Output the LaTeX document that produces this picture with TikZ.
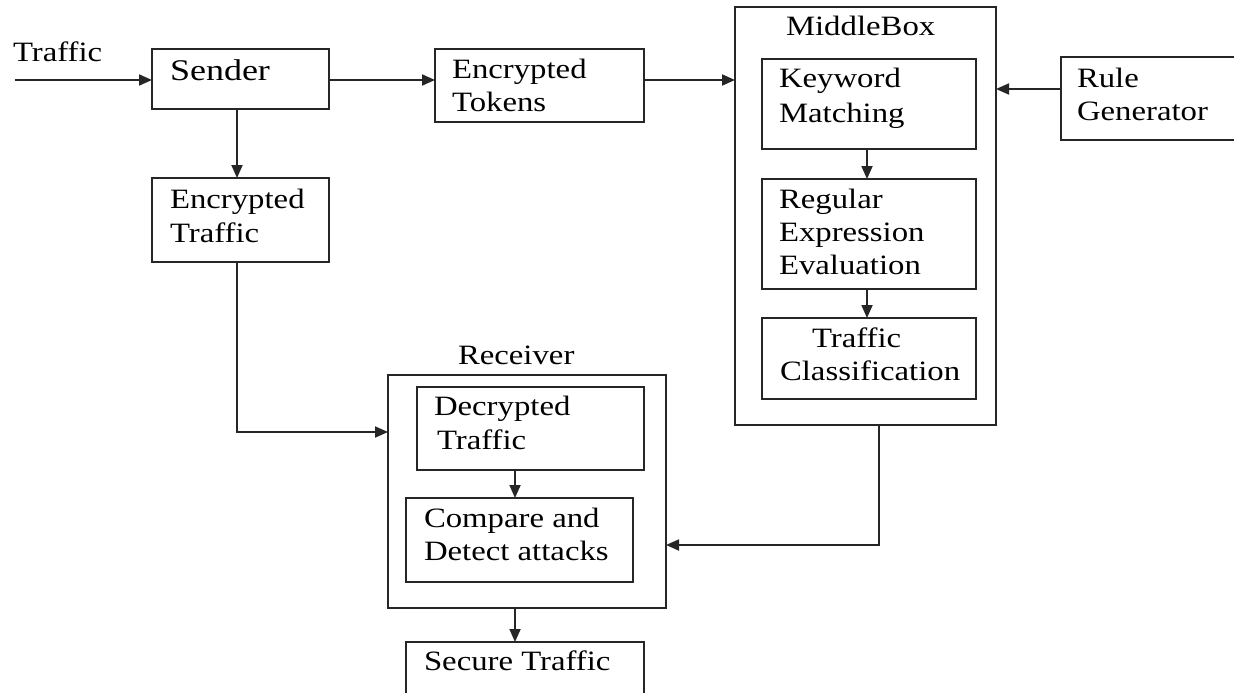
\documentclass[tikz,border=0pt]{standalone}
\usepackage{fontspec}
\setmainfont{Liberation Serif}
\usetikzlibrary{arrows.meta}
\newcommand\lbl[1]{\scalebox{1.17}[1]{#1}}
\tikzset{
  box/.style={draw=black!85, line width=1.8pt, minimum width=#1, anchor=north west, inner sep=0pt, outer sep=0pt},
  txt/.style={anchor=base west, inner sep=0pt, outer sep=0pt, font=\fontsize{28}{34}\selectfont, text=black},
  arr/.style={draw=black!85, line width=1.8pt, -{Triangle[length=13pt,width=11pt]}},
}
\begin{document}
\begin{tikzpicture}[x=1pt,y=-1pt]
\useasboundingbox (0,0) rectangle (1234,693);
\clip (0,0) rectangle (1234,693);
\fill[white] (0,0) rectangle (1234,693);
% boxes
\node[box=177, minimum height=60] (sender) at (152,49) {};
\node[box=177, minimum height=84] (enctraffic) at (152,178) {};
\node[box=209, minimum height=73] (tokens) at (435,49) {};
\node[box=261, minimum height=418] (middlebox) at (735,7) {};
\node[box=214, minimum height=90] (keyword) at (762,59) {};
\node[box=214, minimum height=110] (regex) at (762,179) {};
\node[box=214, minimum height=81] (classif) at (762,318) {};
\node[box=190, minimum height=83] (rulegen) at (1061,57) {};
\node[box=278, minimum height=233] (receiver) at (388,375) {};
\node[box=227, minimum height=83] (decrypted) at (417,387) {};
\node[box=227, minimum height=84] (compare) at (406,498) {};
\node[box=238, minimum height=80] (secure) at (406,642) {};
% texts
\node[txt] (tIn) at (13,62) {\lbl{Traffic}};
\node[txt, font=\fontsize{30}{34}\selectfont] (tSender) at (170,81) {\scalebox{1.2}[1]{Sender}};
\node[txt] (tEnc1) at (170,208) {\lbl{Encrypted}};
\node[txt] (tEnc2) at (170,242) {\lbl{Traffic}};
\node[txt] (tTok1) at (452,78) {\lbl{Encrypted}};
\node[txt] (tTok2) at (452,111) {\lbl{Tokens}};
\node[txt] (tMB) at (786,36) {\lbl{MiddleBox}};
\node[txt] (tKw1) at (779,87) {\lbl{Keyword}};
\node[txt] (tKw2) at (779,122) {\lbl{Matching}};
\node[txt] (tRe1) at (779,208) {\lbl{Regular}};
\node[txt] (tRe2) at (779,241) {\lbl{Expression}};
\node[txt] (tRe3) at (779,274) {\lbl{Evaluation}};
\node[txt] (tCl1) at (812,347) {\lbl{Traffic}};
\node[txt] (tCl2) at (780,380) {\lbl{Classification}};
\node[txt] (tRg1) at (1077,87) {\lbl{Rule}};
\node[txt] (tRg2) at (1077,120) {\lbl{Generator}};
\node[txt] (tRecv) at (458,364) {\lbl{Receiver}};
\node[txt] (tDe1) at (434,415) {\lbl{Decrypted}};
\node[txt] (tDe2) at (437,449) {\lbl{Traffic}};
\node[txt] (tCo1) at (424,527) {\lbl{Compare and}};
\node[txt] (tCo2) at (424,560) {\lbl{Detect attacks}};
\node[txt] (tSec) at (424,670) {\lbl{Secure Traffic}};
% connectors
\coordinate (in) at (15,80);
\draw[arr] (in) -- (sender.west |- in);
\draw[arr] (sender.east |- in) -- (tokens.west |- in);
\draw[arr] (tokens.east |- in) -- (middlebox.west |- in);
\draw[arr] (rulegen.west |- 0,89) -- (middlebox.east |- 0,89);
\draw[arr] (sender.south -| 237,0) -- (enctraffic.north -| 237,0);
\draw[arr] (enctraffic.south -| 237,0) |- (receiver.west |- 0,432);
\draw[arr] (keyword.south -| 867,0) -- (regex.north -| 867,0);
\draw[arr] (regex.south -| 867,0) -- (classif.north -| 867,0);
\draw[arr] (decrypted.south -| 515,0) -- (compare.north -| 515,0);
\draw[arr] (middlebox.south -| 879,0) |- (receiver.east |- 0,545);
\draw[arr] (receiver.south -| 515,0) -- (secure.north -| 515,0);
\end{tikzpicture}
\end{document}
